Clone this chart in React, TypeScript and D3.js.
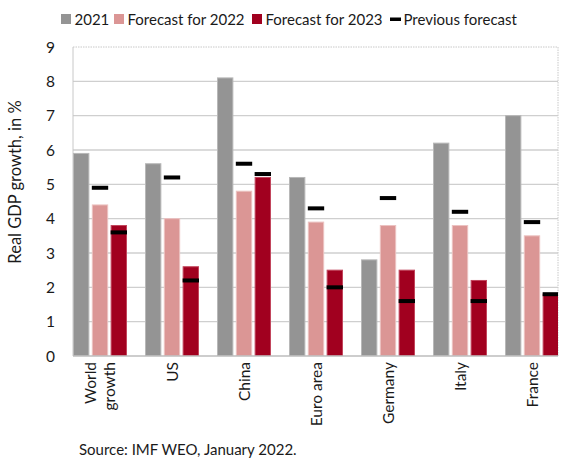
import React from "react";
import * as d3 from "d3";

const categories = [["World", "growth"], ["US"], ["China"], ["Euro area"], ["Germany"], ["Italy"], ["France"]];
const values2021 = [5.9, 5.6, 8.1, 5.2, 2.8, 6.2, 7.0];
const forecast2022 = [4.4, 4.0, 4.8, 3.9, 3.8, 3.8, 3.5];
const forecast2023 = [3.8, 2.6, 5.2, 2.5, 2.5, 2.2, 1.8];
const prev2022 = [4.9, 5.2, 5.6, 4.3, 4.6, 4.2, 3.9];
const prev2023 = [3.6, 2.2, 5.3, 2.0, 1.6, 1.6, 1.8];
const yTicks = [0, 1, 2, 3, 4, 5, 6, 7, 8, 9];
const seriesNames = ["2021", "Forecast for 2022", "Forecast for 2023"];
const prevName = "Previous forecast";
const sourceText = "Source: IMF WEO, January 2022.";
const yLabel = "Real GDP growth, in %";

const colors = ["#949494", "#DB9695", "#A1001F"];
const strokes = ["#b8b8b8", "#ecc2c1", "#c2455c"];
const FONT = "Lato, 'Open Sans', sans-serif";

export default function App() {
  const W = 568, H = 460;
  const left = 73, right = 558, top = 47, bottom = 356;
  const keys = categories.map((c) => c.join(" "));
  const x = d3.scaleBand<string>().domain(keys).range([left, left + 6 * 72 + 54]).paddingInner(0.25).paddingOuter(0);
  const sub = d3.scaleBand<number>().domain([0, 1, 2]).range([0, x.bandwidth()]).paddingInner(0.13);
  const y = d3.scaleLinear().domain([0, 9]).range([bottom, top]);
  const series = [values2021, forecast2022, forecast2023];
  const prevs = [null, prev2022, prev2023];

  const legendItems = [
    { x: 61, label: seriesNames[0], c: colors[0], type: "sq" },
    { x: 114, label: seriesNames[1], c: colors[1], type: "sq" },
    { x: 252, label: seriesNames[2], c: colors[2], type: "sq" },
    { x: 390, label: prevName, c: "#000", type: "dash" },
  ];

  return (
    <svg width={W} height={H} style={{ position: "absolute", left: 0, top: 0, background: "#fff" }} fontFamily={FONT}>
      <defs>
        <clipPath id="plot">
          <rect x={left} y={top - 10} width={right - left} height={bottom - top + 10} />
        </clipPath>
      </defs>
      {/* legend */}
      {legendItems.map((it, i) => (
        <g key={i}>
          {it.type === "sq" ? (
            <rect x={it.x} y={14} width={10} height={10} fill={it.c} />
          ) : (
            <rect x={it.x} y={17.5} width={11} height={3.5} fill={it.c} />
          )}
          <text x={it.x + 13.5} y={25} fontSize={15} fill="#1a1a1a">{it.label}</text>
        </g>
      ))}
      {/* grid */}
      {yTicks.map((t) => (
        <g key={t}>
          {t > 0 && t < 9 && (
            <line x1={left} x2={right} y1={y(t)} y2={y(t)} stroke="#cfcfcf" strokeWidth={1.3} />
          )}
          <text x={55} y={y(t) + 5.5} textAnchor="end" fontSize={15.5} fill="#1a1a1a">{t}</text>
        </g>
      ))}
      <line x1={left} x2={right} y1={top} y2={top} stroke="#c8c8c8" strokeWidth={1} strokeDasharray="1.5,1" />
      <line x1={right} x2={right} y1={top} y2={bottom} stroke="#c8c8c8" strokeWidth={1} strokeDasharray="1.5,1" />
      <line x1={left} x2={left} y1={top} y2={bottom} stroke="#c8c8c8" strokeWidth={1} />
      {/* bars */}
      <g clipPath="url(#plot)">
        {keys.map((k, i) => (
          <g key={k} transform={`translate(${x(k)},0)`}>
            {series.map((s, j) => (
              <rect key={j} x={sub(j)! + 0.5} y={y(s[i])} width={sub.bandwidth() - 1} height={bottom - y(s[i])}
                fill={colors[j]} stroke={strokes[j]} strokeWidth={1} />
            ))}
            {prevs.map((p, j) =>
              p ? (
                <rect key={"p" + j} x={sub(j)!} y={y(p[i]) - 2} width={sub.bandwidth()} height={4} fill="#000" />
              ) : null
            )}
          </g>
        ))}
      </g>
      <line x1={left} x2={right} y1={bottom} y2={bottom} stroke="#bdbdbd" strokeWidth={1.3} />
      {/* x labels */}
      {categories.map((c, i) => {
        const cx = x(keys[i])! + x.bandwidth() / 2;
        const n = c.length;
        return (
          <text key={i} transform={`translate(${cx},362) rotate(-90)`} textAnchor="end" fontSize={15.5} fill="#1a1a1a">
            {c.map((line, li) => (
              <tspan key={li} x={0} y={5.5 + (li - (n - 1) / 2) * 19.5}>{line}</tspan>
            ))}
          </text>
        );
      })}
      {/* y label */}
      <text transform={`translate(21,182) rotate(-90)`} textAnchor="middle" fontSize={16.5} fill="#1a1a1a">{yLabel}</text>
      <text x={79} y={455} fontSize={15} fill="#1a1a1a">{sourceText}</text>
    </svg>
  );
}
